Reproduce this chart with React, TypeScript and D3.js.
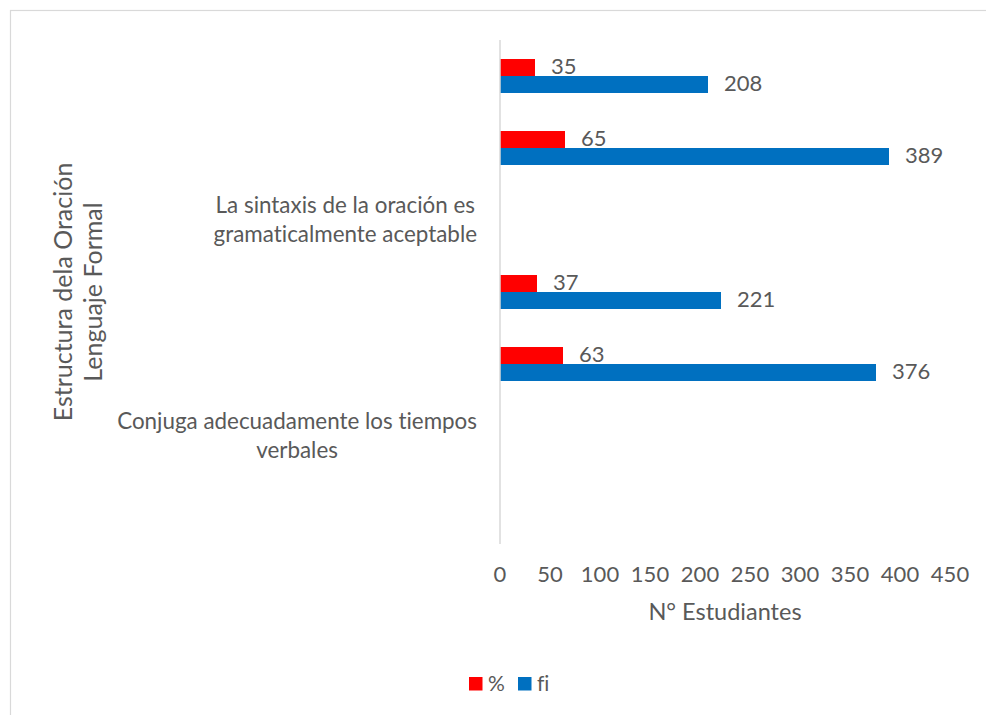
import React, { useEffect, useRef } from "react";
import * as d3 from "d3";

const categories = [
  "",
  "",
  "La sintaxis de la oración es\ngramaticalmente aceptable",
  "",
  "",
  "Conjuga adecuadamente los tiempos\nverbales",
  "",
];
const pctValues: (number | null)[] = [35, 65, null, 37, 63, null, null];
const fiValues: (number | null)[] = [208, 389, null, 221, 376, null, null];
const seriesNames = ["%", "fi"];
const seriesColors = ["#FF0000", "#0070C0"];
const xTicks = [0, 50, 100, 150, 200, 250, 300, 350, 400, 450];
const xTitle = "N° Estudiantes";
const yTitleLines = ["Estructura dela Oración", "Lenguaje Formal"];

const W = 986;
const H = 715;
const FONT = "Lato, 'Open Sans', sans-serif";
const TXT = "#595959";

export default function App() {
  const ref = useRef<SVGSVGElement | null>(null);

  useEffect(() => {
    const svg = d3.select(ref.current);
    svg.selectAll("*").remove();
    svg.style("font-variant-ligatures", "none");

    const plotL = 500, plotR = 950, plotT = 40, plotB = 544;

    // chart border
    svg.append("rect")
      .attr("x", 10.5).attr("y", 10.5)
      .attr("width", W + 20).attr("height", H + 20)
      .attr("fill", "white").attr("stroke", "#D9D9D9").attr("stroke-width", 1.2);

    const x = d3.scaleLinear().domain([0, 450]).range([plotL, plotR]);
    const y = d3.scaleBand<number>()
      .domain(categories.map((_, i) => i))
      .range([plotT, plotB])
      .paddingInner(0.528)
      .paddingOuter(0.264);
    const ys = d3.scaleBand<number>().domain([0, 1]).range([0, y.bandwidth()]);

    const series = [pctValues, fiValues];

    // bars
    series.forEach((vals, si) => {
      const g = svg.append("g");
      vals.forEach((v, i) => {
        if (v == null) return;
        const by = (y(i) as number) + (ys(si) as number);
        g.append("rect")
          .attr("x", x(0)).attr("y", by)
          .attr("width", x(v) - x(0)).attr("height", ys.bandwidth())
          .attr("fill", seriesColors[si]);
        g.append("text")
          .attr("x", x(v) + 16).attr("y", by + ys.bandwidth() / 2 + 1)
          .attr("dominant-baseline", "middle")
          .attr("font-family", FONT).attr("font-size", 22).attr("fill", TXT)
          .text(String(v));
      });
    });

    // axis line
    svg.append("line")
      .attr("x1", plotL).attr("x2", plotL).attr("y1", plotT).attr("y2", plotB)
      .attr("stroke", "#D9D9D9").attr("stroke-width", 1.5);

    // x tick labels
    svg.append("g").selectAll("text").data(xTicks).join("text")
      .attr("x", (d) => x(d)).attr("y", 582)
      .attr("text-anchor", "middle")
      .attr("font-family", FONT).attr("font-size", 22).attr("fill", TXT)
      .text((d) => String(d));

    // x title
    svg.append("text")
      .attr("x", (plotL + plotR) / 2).attr("y", 620)
      .attr("text-anchor", "middle")
      .attr("font-family", FONT).attr("font-size", 23.5).attr("fill", TXT)
      .text(xTitle);

    // category labels
    const labelRight = 477;
    const lineH = 29;
    categories.forEach((c, i) => {
      if (!c) return;
      const lines = c.split("\n");
      const g = svg.append("g");
      const cy = (y(i) as number) + y.bandwidth() / 2;
      const texts = lines.map((ln, li) =>
        g.append("text")
          .attr("y", cy + (li - (lines.length - 1) / 2) * lineH + 7.5)
          .attr("text-anchor", "middle")
          .attr("font-family", FONT).attr("font-size", 22.4).attr("fill", TXT)
          .text(ln)
      );
      const widths = texts.map((t) => (t.node() as SVGTextElement).getComputedTextLength());
      const maxW = Math.max(...widths);
      texts.forEach((t) => t.attr("x", labelRight - maxW / 2));
    });

    // y title
    yTitleLines.forEach((ln, li) => {
      svg.append("text")
        .attr("transform", `translate(${71.7 + li * 30},${(plotT + plotB) / 2}) rotate(-90)`)
        .attr("text-anchor", "middle")
        .attr("font-family", FONT).attr("font-size", 25).attr("fill", TXT)
        .text(ln);
    });

    // legend
    const legend = svg.append("g");
    const items = [
      { x: 469, tx: 488 },
      { x: 518, tx: 537 },
    ];
    seriesNames.forEach((s, si) => {
      legend.append("rect")
        .attr("x", items[si].x).attr("y", 677)
        .attr("width", 13.5).attr("height", 13.5)
        .attr("fill", seriesColors[si]);
      legend.append("text")
        .attr("x", items[si].tx).attr("y", 691)
        .attr("font-family", FONT).attr("font-size", 21).attr("fill", TXT)
        .text(s);
    });
  }, []);

  return (
    <svg
      ref={ref}
      width={W}
      height={H}
      style={{ position: "absolute", left: 0, top: 0, background: "white" }}
    />
  );
}
